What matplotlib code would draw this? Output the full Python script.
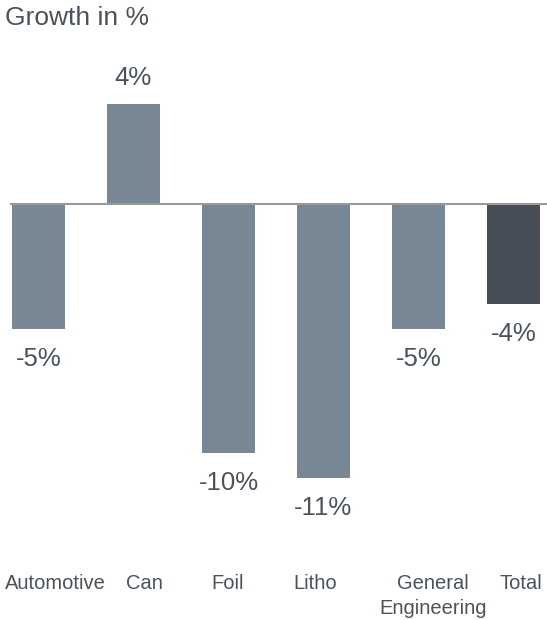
import matplotlib
matplotlib.use('agg')
import matplotlib.pyplot as plt

# growth by segment, in percent
categories = ['Automotive', 'Can', 'Foil', 'Litho', 'General\nEngineering', 'Total']
growth = [-5, 4, -10, -11, -5, -4]
labels = ['-5%', '4%', '-10%', '-11%', '-5%', '-4%']

bar_color = '#778794'
total_color = '#464d57'
text_color = '#4a525b'
# small horizontal nudges of the category labels (data units)
label_shift = [0.18, 0.12, -0.01, -0.09, 0.15, 0.08]

plt.rcParams['font.family'] = ['Liberation Sans', 'DejaVu Sans']

fig = plt.figure(figsize=(5.47, 6.2), dpi=100)
ax = fig.add_axes([10 / 547, 1 - 540 / 620, 537 / 547, 480 / 620])

x = list(range(len(categories)))
colors = [bar_color] * (len(categories) - 1) + [total_color]
ax.bar(x, growth, width=0.56, color=colors, zorder=2)
ax.axhline(0, color='#9a9a9a', lw=1.5, zorder=3)

for xi, v, lab in zip(x, growth, labels):
    off = 26 if v >= 0 else -30
    ax.annotate(lab, (xi, v), xytext=(0, off), textcoords='offset pixels',
                ha='center', va='center', fontsize=18.5, color=text_color)

ax.set_xlim(-0.3, 5.353)
ax.set_ylim(-13.49, 5.783)
ax.axis('off')

# category labels below the axes area
for xi, cat, s in zip(x, categories, label_shift):
    ax.text(xi + s, -34 / 480, cat, transform=ax.get_xaxis_transform(),
            ha='center', va='top', fontsize=14.5, color=text_color, linespacing=1.38)

fig.text(5 / 547, 1 - 18 / 620, 'Growth in %', ha='left', va='center', fontsize=19, color=text_color)

plt.savefig('out.png', dpi=100)
